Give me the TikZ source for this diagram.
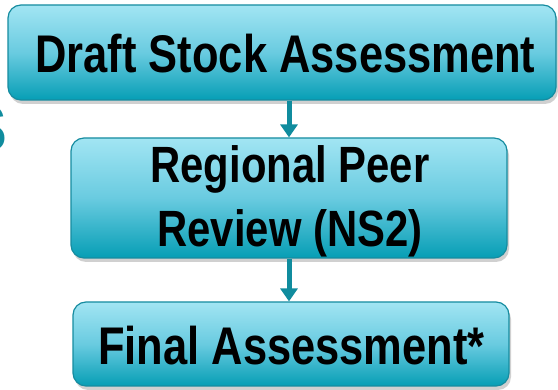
\documentclass[tikz,border=0pt]{standalone}
\usepackage{fontspec}
\newfontfamily\boxfont{Liberation Sans}[FakeStretch=0.82]
\newfontfamily\sidefont{Liberation Sans}
\usetikzlibrary{arrows.meta,shadows}
\definecolor{boxtop}{RGB}{162,229,243}
\definecolor{boxmid}{RGB}{105,203,224}
\definecolor{boxbot}{RGB}{6,158,181}
\definecolor{boxline}{RGB}{22,140,160}
\definecolor{arrowc}{RGB}{16,140,158}
\tikzset{
  stagebox/.style={draw=boxline, line width=1.2pt, rounded corners=13pt,
    top color=boxtop, bottom color=boxbot, middle color=boxmid,
    drop shadow={shadow xshift=2pt, shadow yshift=-4pt, opacity=0.3, fill=black!60},
    inner sep=0pt},
  stagetext/.style={anchor=base, inner sep=0pt, font=\boxfont\bfseries},
  flow/.style={draw=arrowc, line width=5pt, -{Triangle[width=17pt,length=13pt]}, shorten >=0pt}
}
\begin{document}
\begin{tikzpicture}[x=1pt,y=-1pt]
\useasboundingbox (0,0) rectangle (558,390);
\clip (0,0) rectangle (558,390);
\fill[white] (0,0) rectangle (558,390);
% partial letter at left edge
\node[anchor=base east, inner sep=0pt, text=arrowc, font=\sidefont\bfseries\fontsize{66}{70}\selectfont] (side) at (8,152) {S};
% boxes
\node[stagebox, minimum width=548pt, minimum height=95pt] (box1) at (282,52.5) {};
\node[stagebox, minimum width=436pt, minimum height=120pt] (box2) at (289,198) {};
\node[stagebox, minimum width=436pt, minimum height=84pt] (box3) at (291,344) {};
% connectors
\draw[flow] (box1.south -| box2.north) -- (box2.north);
\draw[flow] (box2.south) -- (box2.south |- box3.north);
% texts
\node[stagetext, font=\boxfont\bfseries\fontsize{53}{58}\selectfont] (t1) at (285.5,73) {Draft Stock Assessment};
\node[stagetext, font=\boxfont\bfseries\fontsize{51}{56}\selectfont] (t2a) at (290,183) {Regional Peer};
\node[stagetext, font=\boxfont\bfseries\fontsize{51}{56}\selectfont] (t2b) at (290,247) {Review (NS2)};
\node[stagetext, font=\boxfont\bfseries\fontsize{53}{58}\selectfont] (t3) at (291.5,365) {Final Assessment*};
\end{tikzpicture}
\end{document}
